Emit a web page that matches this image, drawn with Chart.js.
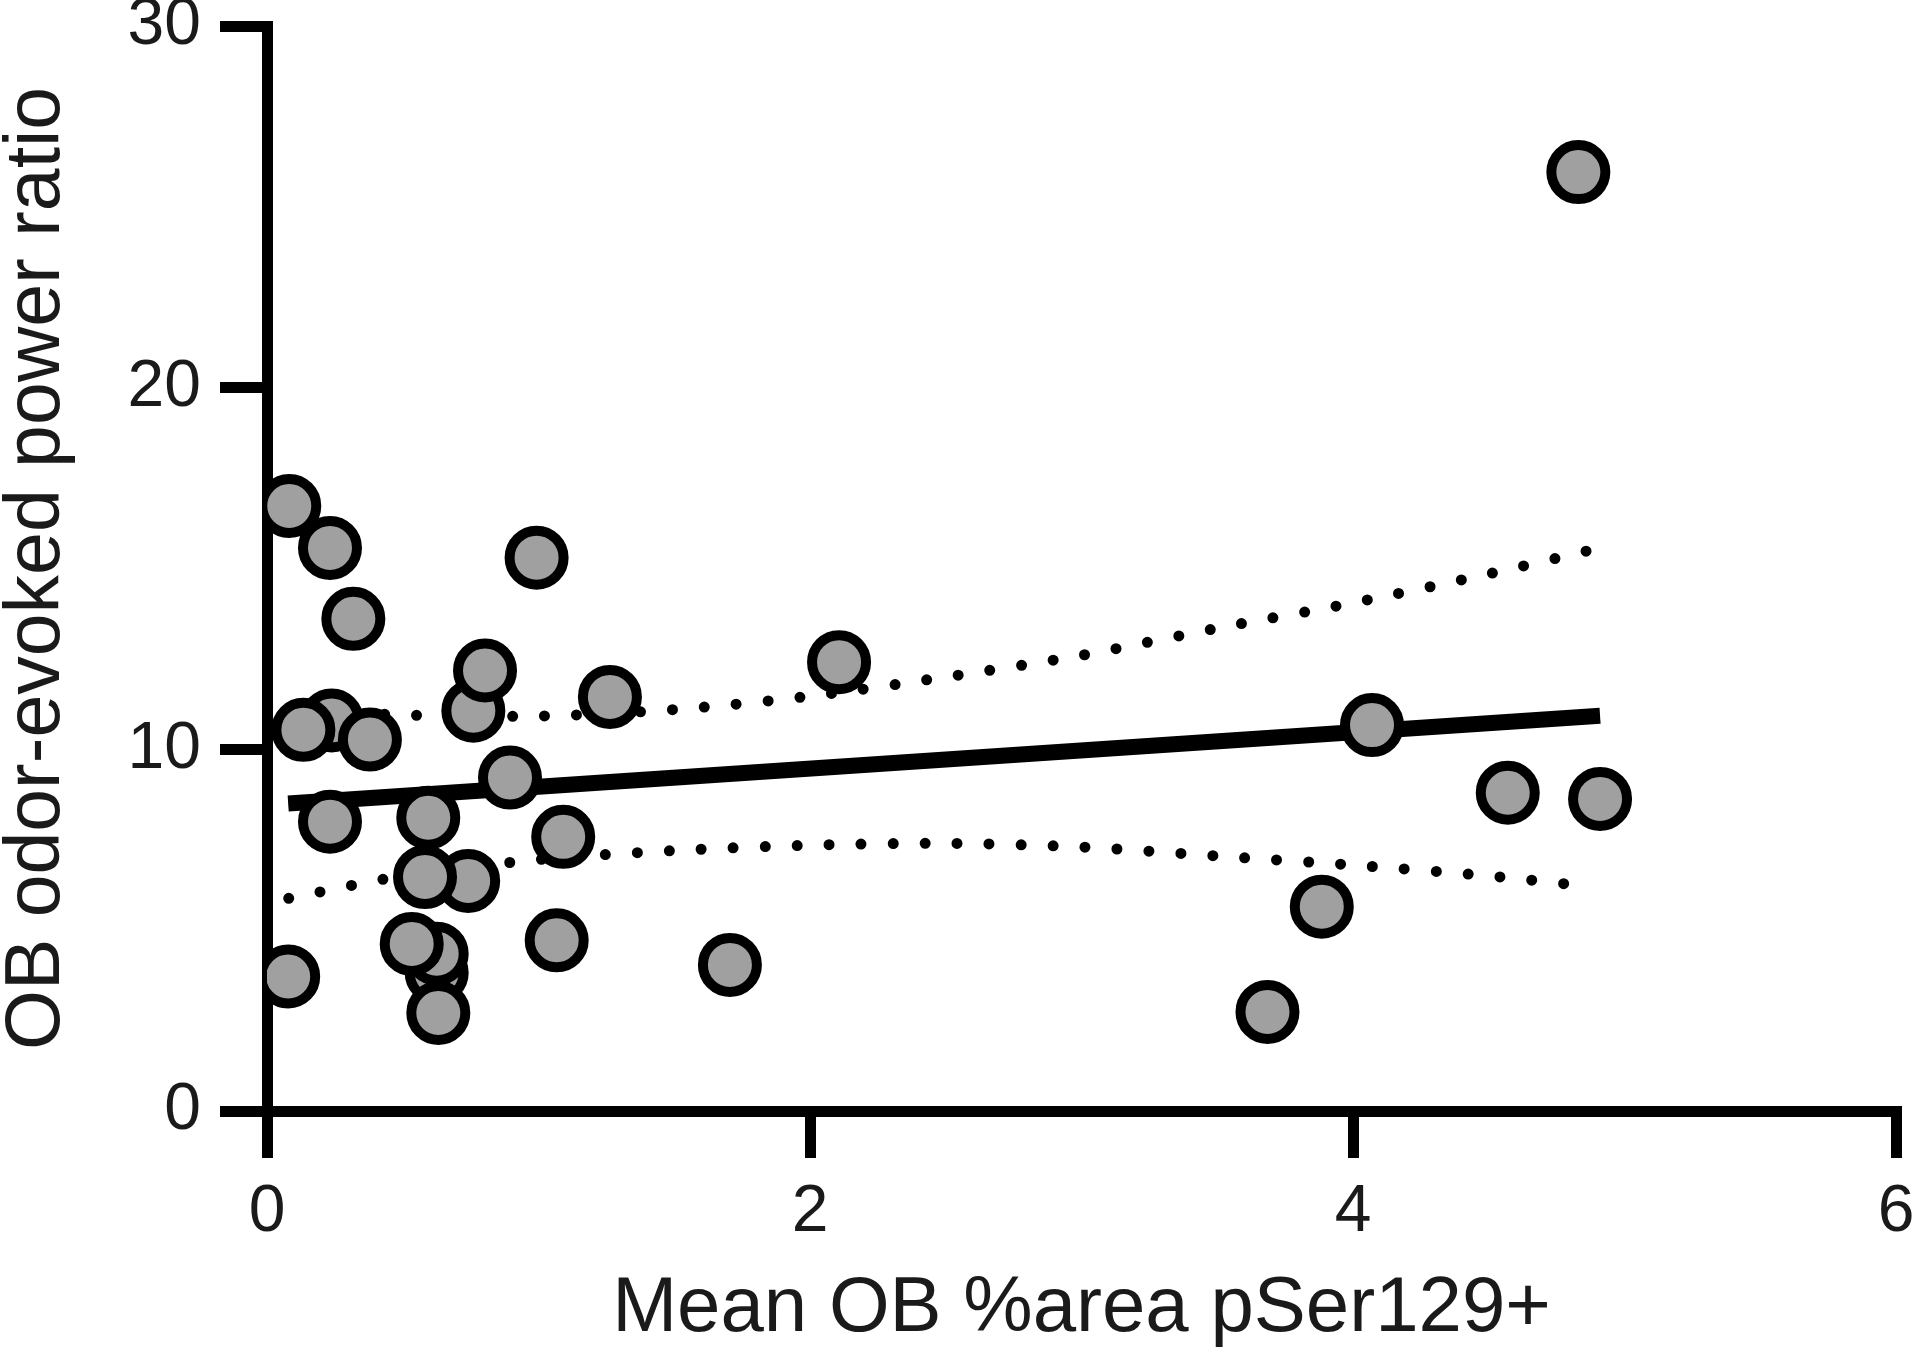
<!DOCTYPE html>
<html>
<head>
<meta charset="utf-8">
<script src="https://cdn.jsdelivr.net/npm/chart.js@4/dist/chart.umd.min.js"></script>
<style>
  html, body { margin: 0; padding: 0; background: #ffffff; }
  #c { display: block; }
</style>
</head>
<body>
<canvas id="c" width="1920" height="1368"></canvas>
<script>
// ---- Data ----
const pointX = [0.238, 0.134, 0.379, 0.082, 0.232, 0.318, 0.760, 0.803, 0.993, 1.263,
                0.895, 0.232, 0.594, 1.091, 0.741, 0.582, 0.625, 0.625, 0.533, 0.631,
                1.067, 0.078, 1.705, 2.107, 4.07, 3.885, 3.685, 4.57, 4.91, 4.83];
const pointY = [10.80, 10.54, 10.27, 16.73, 15.57, 13.61, 11.07, 12.18, 15.30, 11.45,
                9.22, 8.00, 8.11, 7.58, 6.36, 6.47, 3.82, 4.35, 4.62, 2.71,
                4.72, 3.72, 4.04, 12.41, 10.67, 5.65, 2.74, 8.80, 8.63, 25.96];

// Regression line end points
const fitX = [0.078, 4.91];
const fitY = [8.50, 10.93];

// Confidence band (dotted curves)
const bandX     = [0.08, 0.5, 1.0, 1.5, 2.0, 2.5, 3.0, 3.5, 4.0, 4.5, 4.87];
const bandUpper = [11.1, 10.95, 10.92, 11.1, 11.47, 12.0, 12.6, 13.35, 14.05, 14.85, 15.5];
const bandLower = [5.88, 6.5, 6.95, 7.2, 7.35, 7.4, 7.3, 7.05, 6.8, 6.5, 6.21];

const xTicks = [0, 2, 4, 6];
const yTicks = [0, 10, 20, 30];

const xTitle = 'Mean OB %area pSer129+';
const yTitle = 'OB odor-evoked power ratio';

// ---- Build datasets ----
const toXY = (xs, ys) => xs.map((x, i) => ({ x: x, y: ys[i] }));

const FONT = "'Liberation Sans', Arial, Helvetica, sans-serif";
const TEXT = '#1a1a1a';

const dotted = {
  type: 'line',
  borderColor: '#000000',
  borderWidth: 11,
  borderDash: [0, 32],
  borderCapStyle: 'round',
  pointRadius: 0,
  fill: false,
  tension: 0.3
};

const noPad = s => { s.paddingTop = 0; s.paddingBottom = 0; s.paddingLeft = 0; s.paddingRight = 0; };

const chart = new Chart(document.getElementById('c'), {
  type: 'scatter',
  data: {
    datasets: [
      {
        type: 'scatter',
        data: toXY(pointX, pointY),
        backgroundColor: '#a0a0a0',
        borderColor: '#000000',
        borderWidth: 10,
        pointRadius: 27,
        pointHoverRadius: 27
      },
      {
        type: 'line',
        data: toXY(fitX, fitY),
        borderColor: '#000000',
        borderWidth: 16,
        borderCapStyle: 'butt',
        pointRadius: 0,
        fill: false
      },
      Object.assign({ data: toXY(bandX, bandUpper) }, dotted),
      Object.assign({ data: toXY(bandX, bandLower) }, dotted)
    ]
  },
  options: {
    responsive: false,
    animation: false,
    devicePixelRatio: 1,
    events: [],
    layout: { autoPadding: false, padding: { left: 0, top: 26, right: 24, bottom: 0 } },
    plugins: { legend: { display: false }, tooltip: { enabled: false } },
    scales: {
      x: {
        type: 'linear',
        min: 0, max: 6,
        afterFit: s => { s.height = 1368 - 1111; noPad(s); },
        afterBuildTicks: s => { s.ticks = xTicks.map(v => ({ value: v })); },
        border: { display: true, color: '#000000', width: 11 },
        grid: { drawOnChartArea: false, drawTicks: true, tickLength: 47, tickWidth: 11, tickColor: '#000000', lineWidth: 11, color: '#000000' },
        ticks: { font: { family: FONT, size: 66, lineHeight: 1.2 }, color: TEXT, padding: 15, maxRotation: 0 },
        title: { display: true, text: xTitle, color: TEXT, font: { family: FONT, size: 78, lineHeight: 0.86 }, padding: { top: 0, bottom: 25 } }
      },
      y: {
        type: 'linear',
        min: 0, max: 30,
        afterFit: s => { s.width = 267; noPad(s); },
        afterBuildTicks: s => { s.ticks = yTicks.map(v => ({ value: v })); },
        border: { display: true, color: '#000000', width: 11 },
        grid: { drawOnChartArea: false, drawTicks: true, tickLength: 47, tickWidth: 11, tickColor: '#000000', lineWidth: 11, color: '#000000' },
        ticks: { font: { family: FONT, size: 66, lineHeight: 1.2 }, color: TEXT, padding: 19 },
        title: { display: true, text: yTitle, color: TEXT, font: { family: FONT, size: 77, lineHeight: 0.86 }, padding: { top: 5, bottom: 0 } }
      }
    }
  }
});
</script>
</body>
</html>
